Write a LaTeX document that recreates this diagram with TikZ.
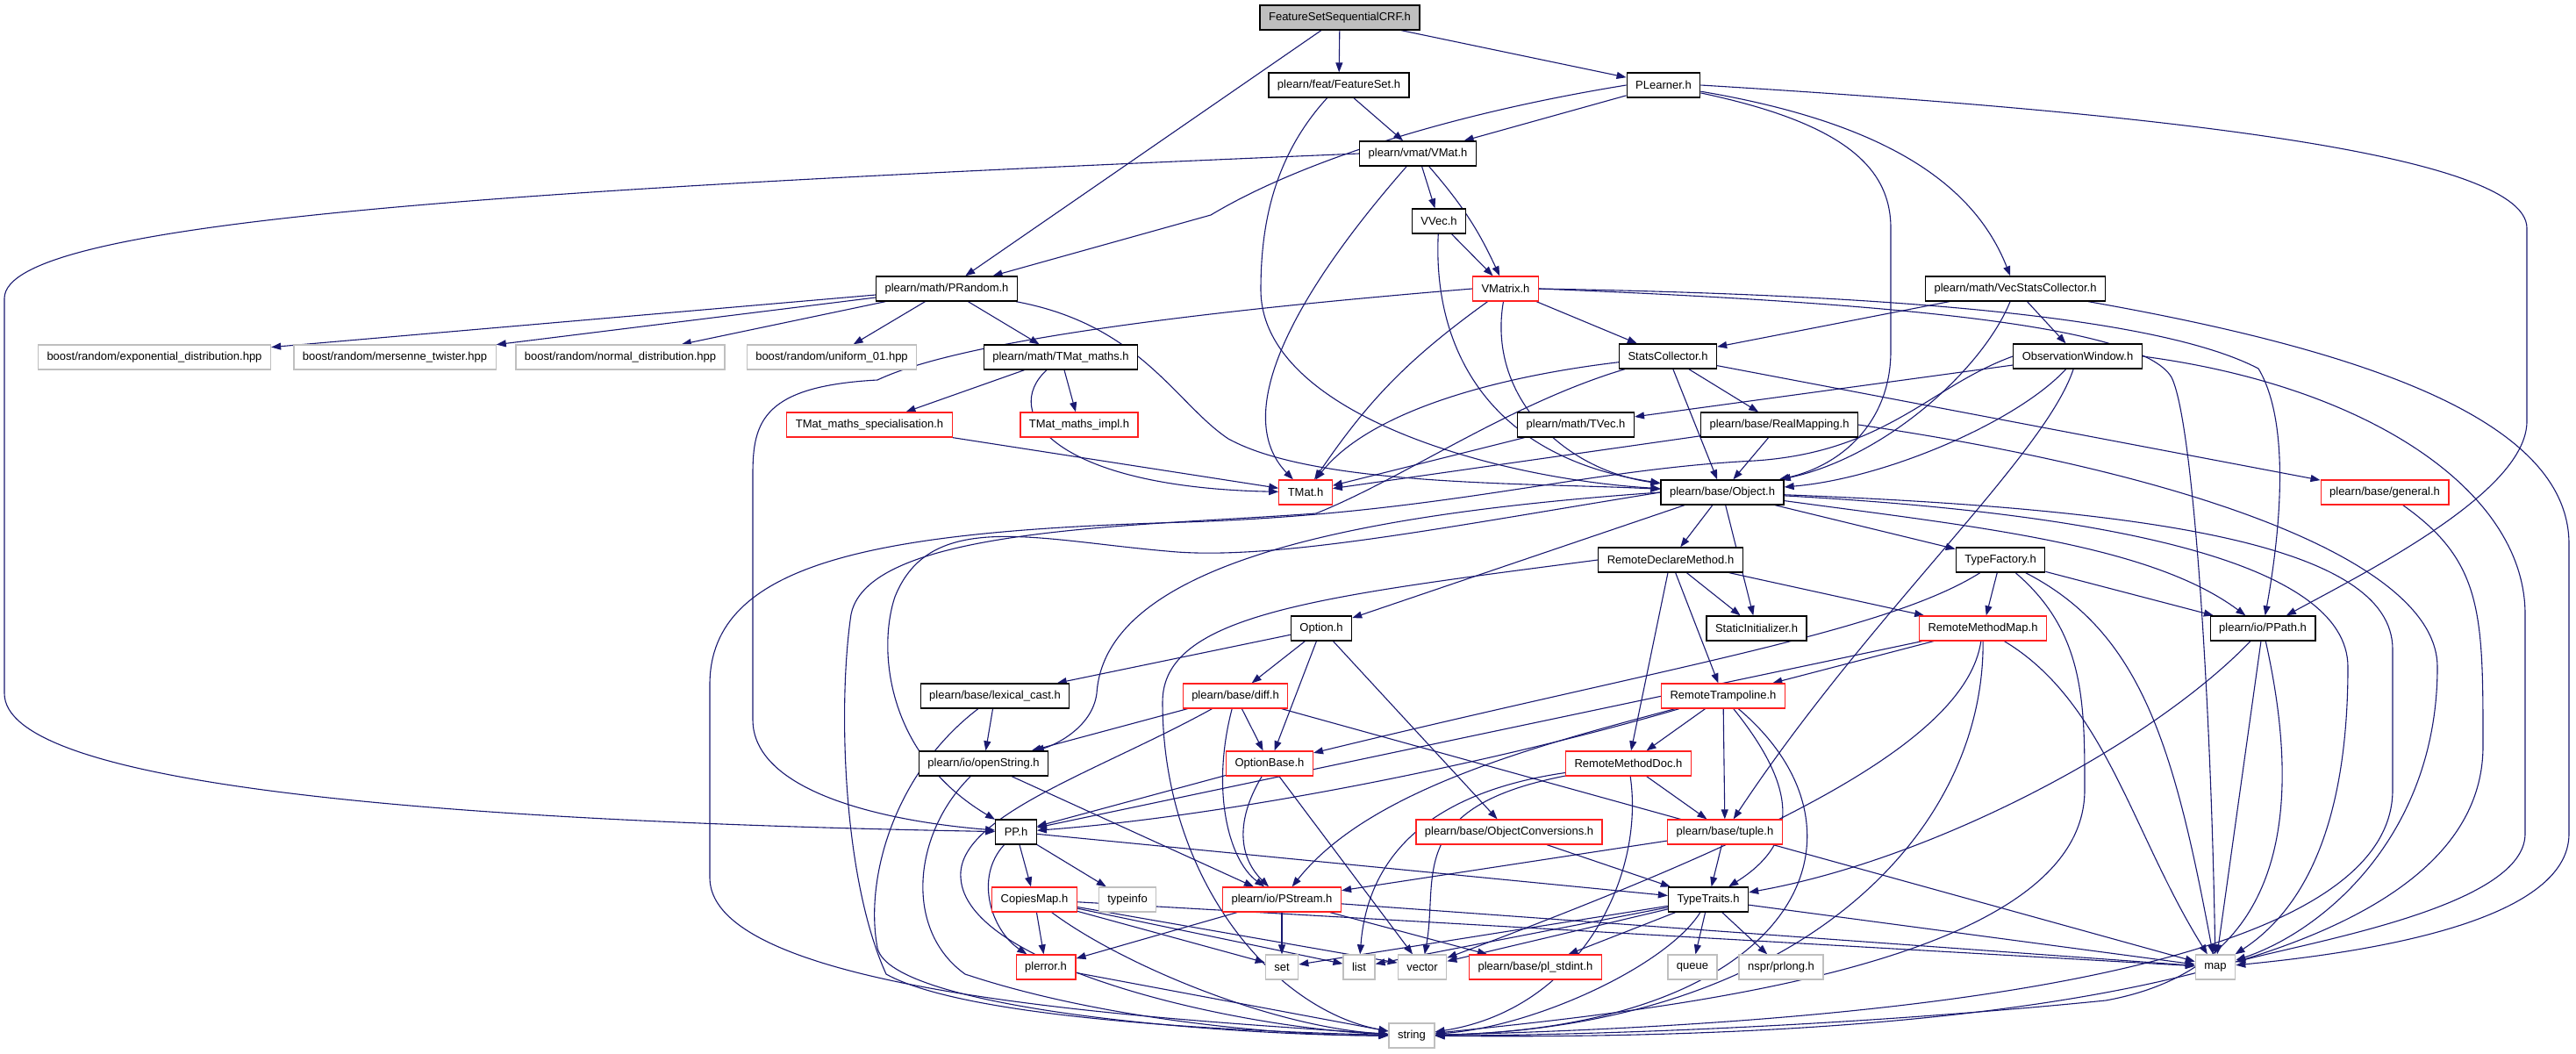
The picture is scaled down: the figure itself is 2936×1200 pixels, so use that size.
\documentclass[tikz,border=0pt]{standalone}
\usepackage{fontspec}
\setmainfont{Liberation Sans}
\usepackage{tikz}
\usetikzlibrary{arrows.meta,shapes,backgrounds}
\definecolor{edgeblue}{HTML}{191970}
\definecolor{boxgray}{HTML}{BFBFBF}
\definecolor{boxred}{HTML}{FF2020}

\begin{document}
\begin{tikzpicture}[x=1pt,y=-1pt]
		\useasboundingbox (0,0) rectangle (2936,1200);
		\tikzset{file/.style = {shape=rectangle,draw=black,fill=white,line width=1.3pt,minimum height=28pt,inner xsep=10pt,inner ysep=0pt,font=\fontsize{13}{15}\selectfont}}
		\tikzset{edge/.style = {->,> = {Triangle[length=11pt,width=8pt]},draw=edgeblue,line width=1.1pt}}
		
		\node[file,fill=boxgray] (root) at (1527,20) {FeatureSetSequentialCRF.h};
		\node[file] (fset) at (1526,97) {plearn/feat/FeatureSet.h};
		\node[file] (plearner) at (1896,97) {PLearner.h};
		\node[file] (vmat) at (1616,175) {plearn/vmat/VMat.h};
		\node[file] (vvec) at (1640,252) {VVec.h};
		\node[file] (prandom) at (1079,329) {plearn/math/PRandom.h};
		\node[file] (vecstats) at (2297,329) {plearn/math/VecStatsCollector.h};
		\node[file] (tmatmaths) at (1209,407) {plearn/math/TMat\_maths.h};
		\node[file] (stats) at (1901,406) {StatsCollector.h};
		\node[file] (obswin) at (2368,406) {ObservationWindow.h};
		\node[file] (tvec) at (1796,484) {plearn/math/TVec.h};
		\node[file] (realmap) at (2028,484) {plearn/base/RealMapping.h};
		\node[file] (object) at (1963,561) {plearn/base/Object.h};
		\node[file] (rdm) at (1904,638) {RemoteDeclareMethod.h};
		\node[file] (typefac) at (2280,638) {TypeFactory.h};
		\node[file] (option) at (1506,716) {Option.h};
		\node[file] (staticinit) at (2002,716) {StaticInitializer.h};
		\node[file] (ppath) at (2579,716) {plearn/io/PPath.h};
		\node[file] (lexcast) at (1134,793) {plearn/base/lexical\_cast.h};
		\node[file] (openstr) at (1121,870) {plearn/io/openString.h};
		\node[file] (pp) at (1158,948) {PP.h};
		\node[file] (traits) at (1947,1025) {TypeTraits.h};
		
		\tikzset{file/.style = {shape=rectangle,draw=boxred,fill=white,line width=1.3pt,minimum height=28pt,inner xsep=10pt,inner ysep=0pt,font=\fontsize{13}{15}\selectfont}}
		\node[file] (vmatrix) at (1716,329) {VMatrix.h};
		\node[file] (tmspec) at (991,484) {TMat\_maths\_specialisation.h};
		\node[file] (tmimpl) at (1230,484) {TMat\_maths\_impl.h};
		\node[file] (tmat) at (1488,561) {TMat.h};
		\node[file] (general) at (2718,561) {plearn/base/general.h};
		\node[file] (rmm) at (2260,716) {RemoteMethodMap.h};
		\node[file] (diff) at (1408,793) {plearn/base/diff.h};
		\node[file] (rtramp) at (1964,793) {RemoteTrampoline.h};
		\node[file] (optbase) at (1447,870) {OptionBase.h};
		\node[file] (rmdoc) at (1856,870) {RemoteMethodDoc.h};
		\node[file] (objconv) at (1720,948) {plearn/base/ObjectConversions.h};
		\node[file] (tuple) at (1966,948) {plearn/base/tuple.h};
		\node[file] (copies) at (1179,1025) {CopiesMap.h};
		\node[file] (pstream) at (1461,1025) {plearn/io/PStream.h};
		\node[file] (plerror) at (1192,1102) {plerror.h};
		\node[file] (stdint) at (1750,1102) {plearn/base/pl\_stdint.h};
		
		\tikzset{file/.style = {shape=rectangle,draw=boxgray,fill=white,line width=1.3pt,minimum height=28pt,inner xsep=10pt,inner ysep=0pt,font=\fontsize{13}{15}\selectfont}}
		\node[file] (expdist) at (176,407) {boost/random/exponential\_distribution.hpp};
		\node[file] (mersenne) at (450,407) {boost/random/mersenne\_twister.hpp};
		\node[file] (normdist) at (707,407) {boost/random/normal\_distribution.hpp};
		\node[file] (uniform) at (948,407) {boost/random/uniform\_01.hpp};
		\node[file] (typeinfo) at (1285,1025) {typeinfo};
		\node[file] (set) at (1461,1102) {set};
		\node[file] (list) at (1549,1102) {list};
		\node[file] (vector) at (1621,1102) {vector};
		\node[file] (queue) at (1929,1102) {queue};
		\node[file] (prlong) at (2030,1102) {nspr/prlong.h};
		\node[file] (map) at (2525,1102) {map};
		\node[file] (string) at (1609,1180) {string};
		
		\begin{pgfonlayer}{background}
		\draw[edge] (root) to (prandom);
		\draw[edge] (root) to (fset);
		\draw[edge] (root) to (plearner);
		\draw[edge] (fset) to (vmat);
		\draw[edge] (fset) .. controls (1450,180) and (1437,260) .. (1437,330) .. controls (1437,470) and (1700,545) .. (object);
		\draw[edge] (plearner) to (vmat);
		\draw[edge] (plearner.west) .. controls (1650,130) and (1480,185) .. (1380,245) to (prandom);
		\draw[edge] (plearner) .. controls (2100,140) and (2155,190) .. (2155,260) to (2155,400) .. controls (2155,480) and (2100,530) .. (object);
		\draw[edge] (plearner) .. controls (2150,140) and (2250,210) .. (vecstats);
		\draw[edge] (plearner.east) .. controls (2400,125) and (2880,170) .. (2880,260) to (2880,480) .. controls (2880,560) and (2700,650) .. (ppath);
		\draw[edge] (vmat.west) .. controls (600,215) and (5,250) .. (5,340) to (5,790) .. controls (5,890) and (450,935) .. (pp);
		\draw[edge] (vmat) to (vvec);
		\draw[edge] (vmat) to[bend left=8] (vmatrix);
		\draw[edge] (vmat) .. controls (1480,330) and (1400,470) .. (tmat);
		\draw[edge] (vvec) to (vmatrix);
		\draw[edge] (vvec) .. controls (1633,390) and (1690,520) .. (object);
		\draw[edge] (vmatrix.west) .. controls (1300,360) and (1080,395) .. (1000,433) .. controls (870,440) and (858,480) .. (858,540) to (858,820) .. controls (858,900) and (1000,935) .. (pp);
		\draw[edge] (vmatrix) to[bend right=10] (tmat);
		\draw[edge] (vmatrix) .. controls (1695,450) and (1780,535) .. (object);
		\draw[edge] (vmatrix) to (stats);
		\draw[edge] (vmatrix.east) .. controls (2100,335) and (2450,355) .. (2574,420) .. controls (2610,480) and (2600,600) .. (ppath);
		\draw[edge] (vmatrix.east) .. controls (2150,345) and (2440,370) .. (2475,430) .. controls (2500,480) and (2520,800) .. (map);
		\draw[edge] (prandom) to (expdist);
		\draw[edge] (prandom) to (mersenne);
		\draw[edge] (prandom) to (normdist);
		\draw[edge] (prandom) to (uniform);
		\draw[edge] (prandom) to (tmatmaths);
		\draw[edge] (prandom) .. controls (1300,370) and (1340,460) .. (1400,500) .. controls (1500,555) and (1750,550) .. (object);
		\draw[edge] (tmatmaths) to (tmspec);
		\draw[edge] (tmatmaths) to (tmimpl);
		\draw[edge] (tmatmaths) .. controls (1140,470) and (1200,555) .. (tmat);
		\draw[edge] (tmspec) to (tmat);
		\draw[edge] (vecstats) to (stats);
		\draw[edge] (vecstats) to (obswin);
		\draw[edge] (vecstats) .. controls (2260,420) and (2150,520) .. (object);
		\draw[edge] (vecstats) .. controls (2700,400) and (2928,480) .. (2928,620) to (2928,950) .. controls (2928,1050) and (2700,1085) .. (map);
		\draw[edge] (stats) .. controls (1700,430) and (1560,470) .. (tmat);
		\draw[edge] (stats) to (object);
		\draw[edge] (stats) to (realmap);
		\draw[edge] (stats) to (general);
		\draw[edge] (stats) .. controls (1720,460) and (1600,545) .. (1500,585) .. controls (1300,600) and (990,600) .. (970,700) .. controls (955,800) and (960,1000) .. (1010,1110) .. controls (1100,1160) and (1400,1175) .. (string);
		\draw[edge] (obswin) to (tvec);
		\draw[edge] (obswin) .. controls (2300,480) and (2150,545) .. (object);
		\draw[edge] (obswin) .. controls (2330,520) and (2130,700) .. (tuple);
		\draw[edge] (obswin.east) .. controls (2700,440) and (2878,560) .. (2878,700) to (2878,950) .. controls (2878,1030) and (2650,1070) .. (map);
		\draw[edge] (obswin.west) .. controls (2200,440) and (2150,515) .. (2000,525) .. controls (1800,535) and (1650,585) .. (1350,595) .. controls (1000,605) and (809,640) .. (809,780) to (809,1000) .. controls (809,1130) and (1300,1160) .. (string);
		\draw[edge] (realmap) to (tmat);
		\draw[edge] (realmap) to (object);
		\draw[edge] (realmap.east) .. controls (2500,540) and (2778,640) .. (2778,760) .. controls (2778,950) and (2650,1060) .. (map);
		\draw[edge] (tvec) to (tmat);
		\draw[edge] (object) to (rdm);
		\draw[edge] (object) to (option);
		\draw[edge] (object) to (staticinit);
		\draw[edge] (object) to (typefac);
		\draw[edge] (object) .. controls (2250,600) and (2450,620) .. (ppath);
		\draw[edge] (object) .. controls (2400,585) and (2676,640) .. (2676,760) .. controls (2676,950) and (2620,1040) .. (map);
		\draw[edge] (object) .. controls (2450,580) and (2727,620) .. (2727,740) to (2727,900) .. controls (2727,1100) and (2200,1165) .. (string);
		\draw[edge] (object.west) .. controls (1550,585) and (1260,640) .. (1250,790) .. controls (1245,830) and (1200,850) .. (openstr);
		\draw[edge] (object.west) .. controls (1650,600) and (1450,640) .. (1330,628) .. controls (1180,615) and (1060,580) .. (1020,680) .. controls (1000,740) and (1010,860) .. (pp);
		\draw[edge] (rdm) to (staticinit);
		\draw[edge] (rdm) to (rmm);
		\draw[edge] (rdm) to (rtramp);
		\draw[edge] (rdm) to (rmdoc);
		\draw[edge] (rdm.west) .. controls (1500,680) and (1325,700) .. (1325,800) .. controls (1325,1000) and (1450,1150) .. (string);
		\draw[edge] (typefac) to (rmm);
		\draw[edge] (typefac) to (ppath);
		\draw[edge] (typefac) .. controls (2150,720) and (1900,760) .. (optbase);
		\draw[edge] (typefac) .. controls (2440,720) and (2478,850) .. (map);
		\draw[edge] (typefac) .. controls (2376,720) and (2376,800) .. (2376,900) .. controls (2376,1100) and (1900,1150) .. (string);
		\draw[edge] (rmm) to (rtramp);
		\draw[edge] (rmm) to (pp);
		\draw[edge] (rmm) .. controls (2262,950) and (2050,1170) .. (string);
		\draw[edge] (rmm) .. controls (2240,850) and (2000,960) .. (vector);
		\draw[edge] (rmm) .. controls (2400,800) and (2430,950) .. (map);
		\draw[edge] (ppath) .. controls (2450,850) and (2200,980) .. (traits);
		\draw[edge] (ppath) to (map);
		\draw[edge] (ppath) .. controls (2620,900) and (2620,1100) .. (2400,1140) .. controls (2100,1170) and (1800,1180) .. (string);
		\draw[edge] (general) .. controls (2830,640) and (2830,700) .. (2830,850) .. controls (2830,1150) and (2100,1185) .. (string);
		\draw[edge] (option) to (lexcast);
		\draw[edge] (option) to (diff);
		\draw[edge] (option) to (optbase);
		\draw[edge] (option) to (objconv);
		\draw[edge] (lexcast) to (openstr);
		\draw[edge] (lexcast) .. controls (1020,880) and (985,1000) .. (1000,1080) .. controls (1015,1150) and (1400,1180) .. (string);
		\draw[edge] (diff) to (openstr);
		\draw[edge] (diff) to (optbase);
		\draw[edge] (diff) .. controls (1380,900) and (1400,980) .. (pstream);
		\draw[edge] (diff) to (map);
		\draw[edge] (diff) .. controls (1250,880) and (1090,930) .. (1095,1000) .. controls (1100,1100) and (1400,1170) .. (string);
		\draw[edge] (openstr) to (pstream);
		\draw[edge] (openstr) .. controls (1040,950) and (1030,1060) .. (1100,1110) .. controls (1250,1160) and (1450,1180) .. (string);
		\draw[edge] (optbase) to (pp);
		\draw[edge] (optbase) .. controls (1405,940) and (1415,980) .. (pstream);
		\draw[edge] (optbase) to (vector);
		\draw[edge] (rtramp) to (rmdoc);
		\draw[edge] (rtramp) to (tuple);
		\draw[edge] (rtramp) .. controls (2050,900) and (2050,960) .. (traits);
		\draw[edge] (rtramp) .. controls (2150,950) and (2050,1170) .. (string);
		\draw[edge] (rtramp) .. controls (1700,870) and (1400,930) .. (pp);
		\draw[edge] (rtramp) .. controls (1750,850) and (1560,900) .. (pstream);
		\draw[edge] (rmdoc) to (tuple);
		\draw[edge] (rmdoc) .. controls (1875,1000) and (1800,1150) .. (string);
		\draw[edge] (rmdoc) .. controls (1650,900) and (1560,960) .. (list);
		\draw[edge] (rmdoc) .. controls (1600,920) and (1640,1000) .. (vector);
		\draw[edge] (pp) to (copies);
		\draw[edge] (pp) to (typeinfo);
		\draw[edge] (pp) .. controls (1110,1000) and (1130,1060) .. (plerror);
		\draw[edge] (pp) to (traits);
		\draw[edge] (objconv) to (traits);
		\draw[edge] (tuple) to (traits);
		\draw[edge] (tuple) to (pstream);
		\draw[edge] (copies) to (plerror);
		\draw[edge] (copies) .. controls (1280,1100) and (1450,1170) .. (string);
		\draw[edge] (copies) to (set);
		\draw[edge] (copies) to (list);
		\draw[edge] (copies) to (vector);
		\draw[edge] (copies) to (map);
		\draw[edge] (pstream) to (plerror);
		\draw[edge] (pstream) to (set);
		\draw[edge] (pstream) to (stdint);
		\draw[edge] (pstream) to (map);
		\draw[edge] (plerror) to (string);
		\draw[edge] (traits) .. controls (1900,1100) and (1750,1170) .. (string);
		\draw[edge] (traits) to (set);
		\draw[edge] (traits) to (list);
		\draw[edge] (traits) to (vector);
		\draw[edge] (traits) to (stdint);
		\draw[edge] (traits) to (queue);
		\draw[edge] (traits) to (prlong);
		\draw[edge] (traits) to (map);
		\end{pgfonlayer}
		\end{tikzpicture}
\end{document}
